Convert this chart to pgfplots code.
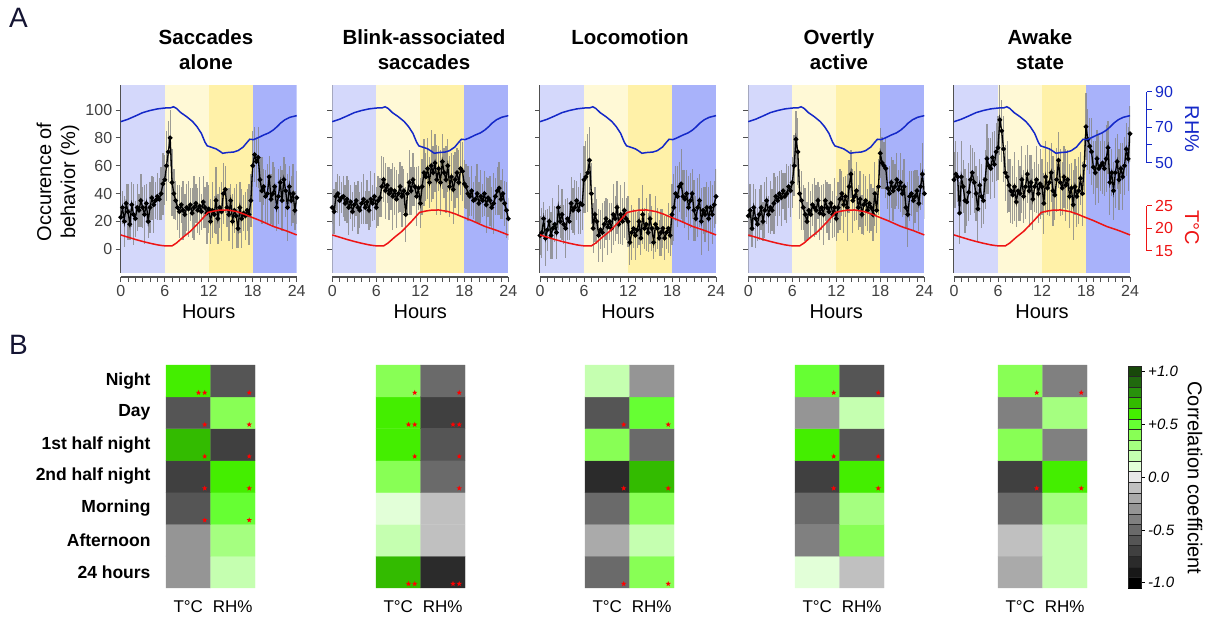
\documentclass[border=0pt]{standalone}
\usepackage{pgfplots}
\usepackage{pgfplotstable}
\pgfplotsset{compat=1.18}
\usepackage{fontspec}
\setmainfont{Liberation Sans}
\newcommand{\fs}[1]{\fontsize{#1}{#1}\selectfont}

\definecolor{bandA}{RGB}{212,216,251}
\definecolor{bandB}{RGB}{255,249,214}
\definecolor{bandC}{RGB}{255,241,168}
\definecolor{bandD}{RGB}{168,178,250}
\definecolor{rhblue}{RGB}{20,40,200}
\definecolor{tred}{RGB}{238,20,20}
\definecolor{axgray}{RGB}{80,80,80}
\definecolor{labnavy}{RGB}{20,20,50}

% filled five-pointed star for significance marks
\pgfdeclareplotmark{fstar}{%
  \pgfpathmoveto{\pgfpointpolar{90}{\pgfplotmarksize}}%
  \pgfpathlineto{\pgfpointpolar{126}{0.42\pgfplotmarksize}}%
  \pgfpathlineto{\pgfpointpolar{162}{\pgfplotmarksize}}%
  \pgfpathlineto{\pgfpointpolar{198}{0.42\pgfplotmarksize}}%
  \pgfpathlineto{\pgfpointpolar{234}{\pgfplotmarksize}}%
  \pgfpathlineto{\pgfpointpolar{270}{0.42\pgfplotmarksize}}%
  \pgfpathlineto{\pgfpointpolar{306}{\pgfplotmarksize}}%
  \pgfpathlineto{\pgfpointpolar{342}{0.42\pgfplotmarksize}}%
  \pgfpathlineto{\pgfpointpolar{18}{\pgfplotmarksize}}%
  \pgfpathlineto{\pgfpointpolar{54}{0.42\pgfplotmarksize}}%
  \pgfpathclose
  \pgfusepathqfill
}

% correlation colour scale, index 0 = -1.0 ... index 20 = +1.0
\pgfplotsset{colormap={corr}{rgb255=(0,0,0) rgb255=(24,24,24) rgb255=(43,43,43)
  rgb255=(64,64,64) rgb255=(85,85,85) rgb255=(106,106,106) rgb255=(128,128,128)
  rgb255=(149,149,149) rgb255=(170,170,170) rgb255=(192,192,192) rgb255=(232,232,232)
  rgb255=(226,255,216) rgb255=(197,255,176) rgb255=(165,255,128) rgb255=(136,255,85)
  rgb255=(102,255,51) rgb255=(68,238,0) rgb255=(51,187,0) rgb255=(40,145,12)
  rgb255=(32,105,14) rgb255=(24,72,10)}}

% ---------- occurrence of behaviour (mean, sd) over 24 h ----------
\pgfplotstableread[row sep=\\]{
t y e\\
0 23 15\\ 0.25 30 12\\ 0.5 20 18\\ 0.75 33 14\\
1 27 20\\ 1.25 18 11\\ 1.5 32 16\\ 1.75 25 22\\
2 22 13\\ 2.25 30 17\\ 2.5 28 12\\ 2.75 35 19\\
3 30 15\\ 3.25 25 21\\ 3.5 33 14\\ 3.75 20 12\\
4 30 18\\ 4.25 37 16\\ 4.5 32 20\\ 4.75 35 13\\
5 38 17\\ 5.25 36 15\\ 5.5 40 19\\ 5.75 47 22\\
6 50 18\\ 6.25 60 25\\ 6.5 70 22\\ 6.75 80 20\\
7 48 24\\ 7.25 40 18\\ 7.5 35 14\\ 7.75 30 16\\
8 27 19\\ 8.25 32 13\\ 8.5 28 21\\ 8.75 25 15\\
9 30 17\\ 9.25 29 20\\ 9.5 32 12\\ 9.75 26 18\\
10 30 23\\ 10.25 33 14\\ 10.5 28 16\\ 10.75 31 21\\
11 27 13\\ 11.25 34 19\\ 11.5 30 15\\ 11.75 26 22\\
12 29 17\\ 12.25 20 16\\ 12.5 28 20\\ 12.75 25 13\\
13 35 24\\ 13.25 22 18\\ 13.5 30 15\\ 13.75 27 21\\
14 40 22\\ 14.25 43 17\\ 14.5 30 14\\ 14.75 25 19\\
15 35 12\\ 15.25 20 20\\ 15.5 28 16\\ 15.75 24 23\\
16 15 14\\ 16.25 30 18\\ 16.5 22 21\\ 16.75 26 13\\
17 24 17\\ 17.25 28 15\\ 17.5 25 22\\ 17.75 35 19\\
18 60 25\\ 18.25 68 20\\ 18.5 63 18\\ 18.75 66 22\\
19 50 16\\ 19.25 42 24\\ 19.5 45 13\\ 19.75 38 19\\
20 40 21\\ 20.25 52 15\\ 20.5 36 18\\ 20.75 40 23\\
21 45 14\\ 21.25 30 17\\ 21.5 38 20\\ 21.75 48 12\\
22 35 22\\ 22.25 50 16\\ 22.5 42 19\\ 22.75 30 24\\
23 45 15\\ 23.25 35 18\\ 23.5 40 21\\ 23.75 28 14\\
24 37 19\\
}\occSacc

\pgfplotstableread[row sep=\\]{
t y e\\
0 30 12\\ 0.25 27 16\\ 0.5 38 10\\ 0.75 40 14\\
1 35 18\\ 1.25 37 11\\ 1.5 38 15\\ 1.75 33 13\\
2 36 17\\ 2.25 30 20\\ 2.5 34 12\\ 2.75 27 14\\
3 32 16\\ 3.25 35 11\\ 3.5 30 19\\ 3.75 28 13\\
4 33 15\\ 4.25 36 18\\ 4.5 30 12\\ 4.75 34 16\\
5 28 14\\ 5.25 36 20\\ 5.5 33 13\\ 5.75 38 17\\
6 30 15\\ 6.25 35 18\\ 6.5 37 14\\ 6.75 45 22\\
7 50 16\\ 7.25 42 20\\ 7.5 46 13\\ 7.75 40 19\\
8 43 15\\ 8.25 38 24\\ 8.5 42 17\\ 8.75 36 21\\
9 40 14\\ 9.25 45 18\\ 9.5 38 22\\ 9.75 42 16\\
10 25 20\\ 10.25 40 15\\ 10.5 48 23\\ 10.75 42 17\\
11 50 19\\ 11.25 45 14\\ 11.5 38 21\\ 11.75 44 16\\
12 33 18\\ 12.25 45 20\\ 12.5 55 24\\ 12.75 52 17\\
13 58 22\\ 13.25 48 18\\ 13.5 60 26\\ 13.75 55 19\\
14 62 21\\ 14.25 50 25\\ 14.5 58 16\\ 14.75 48 23\\
15 63 20\\ 15.25 55 18\\ 15.5 50 24\\ 15.75 60 19\\
16 45 22\\ 16.25 52 17\\ 16.5 43 25\\ 16.75 50 20\\
17 55 18\\ 17.25 48 23\\ 17.5 58 19\\ 17.75 56 21\\
18 47 17\\ 18.25 45 16\\ 18.5 40 20\\ 18.75 38 14\\
19 42 18\\ 19.25 35 13\\ 19.5 36 17\\ 19.75 40 21\\
20 33 15\\ 20.25 38 19\\ 20.5 35 12\\ 20.75 40 16\\
21 32 20\\ 21.25 37 14\\ 21.5 35 18\\ 21.75 30 15\\
22 33 22\\ 22.25 38 13\\ 22.5 42 17\\ 22.75 44 19\\
23 36 14\\ 23.25 40 18\\ 23.5 33 16\\ 23.75 28 20\\
24 22 15\\
}\occBlink

\pgfplotstableread[row sep=\\]{
t y e\\
0 10 14\\ 0.25 12 18\\ 0.5 22 12\\ 0.75 8 20\\
1 14 15\\ 1.25 20 11\\ 1.5 10 17\\ 1.75 15 22\\
2 18 13\\ 2.25 12 19\\ 2.5 30 16\\ 2.75 20 12\\
3 25 18\\ 3.25 18 14\\ 3.5 15 21\\ 3.75 22 15\\
4 20 13\\ 4.25 33 19\\ 4.5 28 16\\ 4.75 30 20\\
5 35 14\\ 5.25 28 17\\ 5.5 33 22\\ 5.75 32 18\\
6 50 24\\ 6.25 52 26\\ 6.5 55 28\\ 6.75 64 24\\
7 40 22\\ 7.25 15 18\\ 7.5 25 20\\ 7.75 20 16\\
8 10 19\\ 8.25 14 14\\ 8.5 12 21\\ 8.75 18 17\\
9 22 15\\ 9.25 16 20\\ 9.5 20 13\\ 9.75 15 18\\
10 25 22\\ 10.25 22 16\\ 10.5 30 19\\ 10.75 18 14\\
11 25 21\\ 11.25 20 17\\ 11.5 28 20\\ 11.75 22 15\\
12 20 18\\ 12.25 5 16\\ 12.5 12 20\\ 12.75 15 14\\
13 10 18\\ 13.25 14 13\\ 13.5 20 17\\ 13.75 8 12\\
14 25 21\\ 14.25 15 15\\ 14.5 18 19\\ 14.75 12 14\\
15 22 18\\ 15.25 15 16\\ 15.5 5 12\\ 15.75 18 20\\
16 15 15\\ 16.25 8 13\\ 16.5 12 17\\ 16.75 15 14\\
17 8 16\\ 17.25 12 12\\ 17.5 15 18\\ 17.75 10 15\\
18 25 22\\ 18.25 30 24\\ 18.5 40 20\\ 18.75 38 22\\
19 45 18\\ 19.25 47 25\\ 19.5 38 19\\ 19.75 36 21\\
20 40 17\\ 20.25 30 23\\ 20.5 35 20\\ 20.75 40 18\\
21 28 22\\ 21.25 22 16\\ 21.5 30 21\\ 21.75 35 19\\
22 20 24\\ 22.25 28 17\\ 22.5 25 20\\ 22.75 30 18\\
23 22 23\\ 23.25 30 19\\ 23.5 25 21\\ 23.75 32 17\\
24 38 20\\
}\occLoco

\pgfplotstableread[row sep=\\]{
t y e\\
0 24 15\\ 0.25 28 19\\ 0.5 15 13\\ 0.75 30 17\\
1 22 21\\ 1.25 18 12\\ 1.5 25 18\\ 1.75 30 16\\
2 20 14\\ 2.25 28 20\\ 2.5 35 17\\ 2.75 25 13\\
3 30 19\\ 3.25 28 15\\ 3.5 33 22\\ 3.75 38 14\\
4 35 18\\ 4.25 40 16\\ 4.5 37 20\\ 4.75 42 13\\
5 38 17\\ 5.25 40 21\\ 5.5 45 15\\ 5.75 42 19\\
6 48 18\\ 6.25 60 22\\ 6.5 79 20\\ 6.75 70 24\\
7 40 18\\ 7.25 35 21\\ 7.5 30 16\\ 7.75 25 19\\
8 20 14\\ 8.25 28 20\\ 8.5 25 17\\ 8.75 32 15\\
9 30 21\\ 9.25 28 18\\ 9.5 35 13\\ 9.75 26 19\\
10 30 16\\ 10.25 25 22\\ 10.5 35 15\\ 10.75 30 18\\
11 27 20\\ 11.25 33 14\\ 11.5 25 17\\ 11.75 30 21\\
12 22 16\\ 12.25 30 18\\ 12.5 36 22\\ 12.75 40 16\\
13 32 20\\ 13.25 38 15\\ 13.5 30 24\\ 13.75 45 19\\
14 54 17\\ 14.25 35 23\\ 14.5 38 18\\ 14.75 42 21\\
15 30 16\\ 15.25 36 20\\ 15.5 25 14\\ 15.75 32 22\\
16 35 18\\ 16.25 28 15\\ 16.5 33 21\\ 16.75 30 17\\
17 25 19\\ 17.25 40 23\\ 17.5 28 16\\ 17.75 45 20\\
18 69 18\\ 18.25 62 19\\ 18.5 60 17\\ 18.75 58 21\\
19 44 15\\ 19.25 40 20\\ 19.5 48 18\\ 19.75 42 22\\
20 45 16\\ 20.25 50 19\\ 20.5 43 14\\ 20.75 48 21\\
21 40 17\\ 21.25 45 20\\ 21.5 30 15\\ 21.75 25 23\\
22 38 18\\ 22.25 40 16\\ 22.5 35 21\\ 22.75 38 19\\
23 42 15\\ 23.25 33 20\\ 23.5 45 17\\ 23.75 54 22\\
24 40 18\\
}\occActive

\pgfplotstableread[row sep=\\]{
t y e\\
0 50 20\\ 0.25 54 24\\ 0.5 52 18\\ 0.75 26 22\\
1 52 26\\ 1.25 45 19\\ 1.5 35 23\\ 1.75 34 17\\
2 41 21\\ 2.25 50 25\\ 2.5 55 18\\ 2.75 48 22\\
3 40 20\\ 3.25 29 24\\ 3.5 46 19\\ 3.75 38 23\\
4 35 17\\ 4.25 50 21\\ 4.5 65 25\\ 4.75 60 20\\
5 58 22\\ 5.25 66 18\\ 5.5 61 24\\ 5.75 70 21\\
6 73 23\\ 6.25 93 25\\ 6.5 85 22\\ 6.75 72 24\\
7 55 20\\ 7.25 52 26\\ 7.5 46 19\\ 7.75 42 23\\
8 39 21\\ 8.25 45 25\\ 8.5 34 18\\ 8.75 42 22\\
9 40 20\\ 9.25 50 24\\ 9.5 38 19\\ 9.75 45 23\\
10 54 21\\ 10.25 42 26\\ 10.5 48 20\\ 10.75 36 22\\
11 45 18\\ 11.25 50 24\\ 11.5 40 21\\ 11.75 47 25\\
12 45 20\\ 12.25 33 22\\ 12.5 52 26\\ 12.75 44 19\\
13 48 24\\ 13.25 55 21\\ 13.5 42 25\\ 13.75 39 18\\
14 50 23\\ 14.25 64 20\\ 14.5 48 24\\ 14.75 44 19\\
15 52 22\\ 15.25 46 26\\ 15.5 50 21\\ 15.75 38 23\\
16 44 18\\ 16.25 32 25\\ 16.5 45 20\\ 16.75 38 22\\
17 42 24\\ 17.25 51 19\\ 17.5 40 23\\ 17.75 60 21\\
18 88 24\\ 18.25 79 22\\ 18.5 74 20\\ 18.75 70 24\\
19 59 19\\ 19.25 55 23\\ 19.5 65 21\\ 19.75 58 25\\
20 60 18\\ 20.25 62 22\\ 20.5 58 20\\ 20.75 65 24\\
21 73 19\\ 21.25 48 23\\ 21.5 55 17\\ 21.75 42 21\\
22 55 25\\ 22.25 63 20\\ 22.5 50 22\\ 22.75 58 18\\
23 52 24\\ 23.25 60 21\\ 23.5 72 19\\ 23.75 65 23\\
24 83 20\\
}\occAwake

% ---------- relative humidity and temperature ----------
\pgfplotstableread[row sep=\\]{
t rh\\
0 73.1\\ 1 74.5\\ 2 76.3\\ 3 78.2\\ 4 79.4\\ 5 80.3\\ 6 80.8\\ 6.8 80.9\\ 7.2 81.5\\
7.6 80.6\\ 8.2 78.2\\ 9 75.9\\ 9.8 73.2\\ 10.4 70.3\\ 11 66.5\\ 11.5 61.5\\ 11.8 59.5\\
12.3 58.8\\ 13 57.8\\ 13.5 56.5\\ 13.9 55.3\\ 14.5 55.7\\ 15.4 56.0\\ 16 56.8\\
16.7 58.8\\ 17.2 61.3\\ 17.6 63.2\\ 18.1 63.0\\ 18.6 63.8\\ 19.5 65.6\\ 20.2 66.8\\
20.8 68.4\\ 21.3 70.2\\ 21.8 72.3\\ 22.4 74.2\\ 23.1 75.6\\ 24 76.5\\
}\rhdata

\pgfplotstableread[row sep=\\]{
t tc\\
0 18.5\\ 1 18.0\\ 2 17.5\\ 3 17.05\\ 4 16.65\\ 5 16.3\\ 5.8 16.1\\ 7 16.07\\
7.6 16.7\\ 8.5 18.0\\ 9.5 19.3\\ 10.8 21.5\\ 11.9 23.5\\ 12.7 23.8\\ 13.5 24.0\\
14.5 24.05\\ 15.8 23.7\\ 16.8 23.15\\ 17.6 22.6\\ 19 21.7\\ 20.8 20.4\\ 22.6 19.4\\
24 18.5\\
}\tdata

% ---------- correlation coefficients (x: 0 = T, 1 = RH; y: 0 = 24 h ... 6 = night) ----------
\pgfplotstableread[row sep=\\]{
x y v\\ 0 0 -0.3\\ 1 0 0.2\\ 0 1 -0.3\\ 1 1 0.3\\ 0 2 -0.6\\ 1 2 0.5\\ 0 3 -0.7\\ 1 3 0.6\\
0 4 0.7\\ 1 4 -0.7\\ 0 5 -0.6\\ 1 5 0.4\\ 0 6 0.6\\ 1 6 -0.6\\
}\corSacc
\pgfplotstableread[row sep=\\]{
x y v\\ 0 0 0.7\\ 1 0 -0.8\\ 0 1 0.2\\ 1 1 -0.1\\ 0 2 0.1\\ 1 2 -0.1\\ 0 3 0.4\\ 1 3 -0.5\\
0 4 0.6\\ 1 4 -0.6\\ 0 5 0.6\\ 1 5 -0.7\\ 0 6 0.4\\ 1 6 -0.5\\
}\corBlink
\pgfplotstableread[row sep=\\]{
x y v\\ 0 0 -0.5\\ 1 0 0.4\\ 0 1 -0.2\\ 1 1 0.2\\ 0 2 -0.5\\ 1 2 0.4\\ 0 3 -0.8\\ 1 3 0.7\\
0 4 0.4\\ 1 4 -0.5\\ 0 5 -0.6\\ 1 5 0.5\\ 0 6 0.2\\ 1 6 -0.3\\
}\corLoco
\pgfplotstableread[row sep=\\]{
x y v\\ 0 0 0.1\\ 1 0 -0.1\\ 0 1 -0.4\\ 1 1 0.4\\ 0 2 -0.5\\ 1 2 0.3\\ 0 3 -0.7\\ 1 3 0.6\\
0 4 0.6\\ 1 4 -0.6\\ 0 5 -0.3\\ 1 5 0.2\\ 0 6 0.5\\ 1 6 -0.6\\
}\corActive
\pgfplotstableread[row sep=\\]{
x y v\\ 0 0 -0.2\\ 1 0 0.2\\ 0 1 -0.1\\ 1 1 0.2\\ 0 2 -0.5\\ 1 2 0.3\\ 0 3 -0.7\\ 1 3 0.6\\
0 4 0.4\\ 1 4 -0.4\\ 0 5 -0.4\\ 1 5 0.3\\ 0 6 0.4\\ 1 6 -0.4\\
}\corAwake

% significance stars (one per star, bottom right of the cell)
\pgfplotstableread[row sep=\\]{
x y\\ 0.23 5.63\\ 0.37 5.63\\ 1.37 5.63\\ 0.37 4.63\\ 1.37 4.63\\ 0.37 3.63\\ 1.37 3.63\\
0.37 2.63\\ 1.37 2.63\\ 0.37 1.63\\ 1.37 1.63\\
}\sigSacc
\pgfplotstableread[row sep=\\]{
x y\\ 0.37 5.63\\ 1.37 5.63\\ 0.23 4.63\\ 0.37 4.63\\ 1.23 4.63\\ 1.37 4.63\\ 0.37 3.63\\
1.37 3.63\\ 1.37 2.63\\ 0.23 -0.37\\ 0.37 -0.37\\ 1.23 -0.37\\ 1.37 -0.37\\
}\sigBlink
\pgfplotstableread[row sep=\\]{
x y\\ 0.37 4.63\\ 1.37 4.63\\ 0.37 2.63\\ 1.37 2.63\\ 0.37 -0.37\\ 1.37 -0.37\\
}\sigLoco
\pgfplotstableread[row sep=\\]{
x y\\ 0.37 5.63\\ 1.37 5.63\\ 0.37 3.63\\ 1.37 3.63\\ 0.37 2.63\\ 1.37 2.63\\
}\sigActive
\pgfplotstableread[row sep=\\]{
x y\\ 0.37 5.63\\ 1.37 5.63\\ 0.37 2.63\\ 1.37 2.63\\
}\sigAwake

\pgfplotstableread[row sep=\\]{
x y\\ 0 -1\\ 1 -1\\ 0 -0.9\\ 1 -0.9\\ 0 -0.8\\ 1 -0.8\\ 0 -0.7\\ 1 -0.7\\ 0 -0.6\\ 1 -0.6\\
0 -0.5\\ 1 -0.5\\ 0 -0.4\\ 1 -0.4\\ 0 -0.3\\ 1 -0.3\\ 0 -0.2\\ 1 -0.2\\ 0 -0.1\\ 1 -0.1\\
0 0\\ 1 0\\ 0 0.1\\ 1 0.1\\ 0 0.2\\ 1 0.2\\ 0 0.3\\ 1 0.3\\ 0 0.4\\ 1 0.4\\ 0 0.5\\ 1 0.5\\
0 0.6\\ 1 0.6\\ 0 0.7\\ 1 0.7\\ 0 0.8\\ 1 0.8\\ 0 0.9\\ 1 0.9\\ 0 1\\ 1 1\\
}\cbdata

\pgfplotsset{
  occ axis/.style={scale only axis, anchor=south west, width=176pt, height=188pt,
    xmin=0, xmax=24, ymin=-17, ymax=118,
    axis x line*=bottom, axis y line*=left, axis x line shift=4pt,
    xtick={0,6,12,18,24}, minor x tick num=5, ytick={0,20,...,100},
    tick align=outside, major tick length=5pt, minor tick length=5pt,
    axis line style={axgray, line width=1.3pt},
    tick style={axgray, line width=0.9pt},
    ticklabel style={font=\fs{16}, text=black!75},
    /pgf/number format/assume math mode=true,
    xlabel={Hours},
    xlabel style={font=\fs{20}, at={(axis description cs:0.5,0)}, anchor=base, yshift=-46pt}},
  env axis/.style={scale only axis, anchor=south west, width=176pt,
    xmin=0, xmax=24, clip=false},
  hm axis/.style={scale only axis, anchor=south west, width=89pt, height=223pt,
    xmin=-0.5, xmax=1.5, ymin=-0.5, ymax=6.5,
    axis line style={draw=none}, tick style={draw=none},
    xtick={0,1}, xticklabels={T°C,RH\%}, ytick=\empty, major tick length=0pt,
    xticklabel style={font=\fs{17}, anchor=base, yshift=-25pt},
    colormap name=corr, colormap access=direct, clip=false},
}

\newcommand{\occpanel}[3]{%
  \begin{axis}[occ axis, at={(#1pt,344pt)}, #3]
    \addplot[fill=bandA, draw=none] coordinates {(0,-17) (0,118) (6,118) (6,-17)} -- cycle;
    \addplot[fill=bandB, draw=none] coordinates {(6,-17) (6,118) (12,118) (12,-17)} -- cycle;
    \addplot[fill=bandC, draw=none] coordinates {(12,-17) (12,118) (18,118) (18,-17)} -- cycle;
    \addplot[fill=bandD, draw=none] coordinates {(18,-17) (18,118) (24,118) (24,-17)} -- cycle;
    \addplot[draw=none, error bars/.cd, y dir=both, y explicit, error mark=none,
      error bar style={draw=black!48, line width=1.3pt, opacity=0.8}]
      table[x=t, y=y, y error=e] {#2};
    \addplot[black, line width=1.3pt, mark=*, mark size=1.7pt] table[x=t, y=y] {#2};
  \end{axis}
  \begin{axis}[env axis, at={(#1pt,454.3pt)}, height=71pt, ymin=50, ymax=90, hide axis]
    \addplot[rhblue, line width=1.5pt] table[x=t, y=rh] {\rhdata};
  \end{axis}
  \begin{axis}[env axis, at={(#1pt,366.3pt)}, height=45pt, ymin=15, ymax=25, hide axis]
    \addplot[tred, line width=1.5pt] table[x=t, y=tc] {\tdata};
  \end{axis}
}

\newcommand{\hmpanel}[4]{%
  \begin{axis}[hm axis, at={(#1pt,29pt)}, #4]
    \addplot[matrix plot*, mesh/cols=2, point meta=explicit]
      table[x=x, y=y, meta expr={round(10*\thisrow{v}+10)}] {#2};
    \addplot[only marks, mark=fstar, mark size=2.8pt, red] table[x=x, y=y] {#3};
  \end{axis}
}

\begin{document}
\begin{tikzpicture}
\useasboundingbox (0,0) rectangle (1210pt,617pt);

% panel letters
\node[anchor=base west, font=\fs{28}, text=labnavy, inner sep=0pt] at (9pt,589pt) {A};
\node[anchor=base west, font=\fs{28}, text=labnavy, inner sep=0pt] at (9pt,262pt) {B};

% titles
\begin{scope}[every node/.style={anchor=base, font=\bfseries\fs{20.5}, inner sep=0pt}]
\node at (206pt,572pt) {Saccades};            \node at (206pt,547.5pt) {alone};
\node at (424pt,572pt) {Blink-associated};    \node at (424pt,547.5pt) {saccades};
\node at (630pt,572pt) {Locomotion};
\node at (839pt,572pt) {Overtly};             \node at (839pt,547.5pt) {active};
\node at (1040pt,572pt) {Awake};              \node at (1040pt,547.5pt) {state};
\end{scope}

\node[rotate=90, align=center, font=\fontsize{20}{24}\selectfont] at (58pt,435pt)
  {Occurence of\\behavior (\%)};

% time courses
\occpanel{120.7}{\occSacc}{}
\occpanel{332.3}{\occBlink}{yticklabel=\empty}
\occpanel{540}{\occLoco}{yticklabel=\empty}
\occpanel{748.3}{\occActive}{yticklabel=\empty}
\occpanel{954}{\occAwake}{yticklabel=\empty}

% right-hand scales of the last panel
\begin{axis}[env axis, at={(954pt,454.3pt)}, width=192.7pt, xmax=26.17, height=71pt,
  ymin=50, ymax=90, hide x axis, axis y line*=right,
  ytick={50,70,90}, minor ytick={60,80}, tick align=outside,
  major tick length=5pt, minor tick length=5pt,
  y axis line style={rhblue, line width=1.3pt}, tick style={rhblue, line width=0.9pt},
  yticklabel style={font=\fs{16}, text=rhblue}, /pgf/number format/assume math mode=true]
  \addplot[draw=none] coordinates {(0,70)};
\end{axis}
\begin{axis}[env axis, at={(954pt,366.3pt)}, width=192.7pt, xmax=26.17, height=45pt,
  ymin=15, ymax=25, hide x axis, axis y line*=right,
  ytick={15,20,25}, tick align=outside, major tick length=5pt,
  y axis line style={tred, line width=1.3pt}, tick style={tred, line width=0.9pt},
  yticklabel style={font=\fs{16}, text=tred}, /pgf/number format/assume math mode=true]
  \addplot[draw=none] coordinates {(0,20)};
\end{axis}
\node[rotate=-90, font=\fs{20}, text=rhblue] at (1192pt,488pt) {RH\%};
\node[rotate=-90, font=\fs{20}, text=tred] at (1192pt,389.5pt) {T°C};

% correlation maps
\hmpanel{166}{\corSacc}{\sigSacc}{ytick={0,...,6},
  yticklabels={24 hours,Afternoon,Morning,2nd half night,1st half night,Day,Night},
  yticklabel style={font=\bfseries\fs{17.5}, anchor=east, xshift=-12pt}}
\hmpanel{376}{\corBlink}{\sigBlink}{}
\hmpanel{585}{\corLoco}{\sigLoco}{}
\hmpanel{795}{\corActive}{\sigActive}{}
\hmpanel{998}{\corAwake}{\sigAwake}{}

% colour scale
\begin{axis}[scale only axis, anchor=south west, at={(1128pt,29pt)}, width=13.7pt, height=222pt,
  xmin=-0.5, xmax=0.5, ymin=-1.05, ymax=1.05, xtick=\empty,
  ytick={-1,-0.5,0,0.5,1}, yticklabels={-1.0,-0.5,0.0,+0.5,+1.0}, ytick pos=right,
  tick align=outside, major tick length=3pt, tick style={black, line width=0.6pt},
  yticklabel style={font=\itshape\fs{15}},
  colormap name=corr, colormap access=direct, axis line style={black, line width=0.8pt}]
  \addplot[matrix plot*, mesh/cols=2, point meta=explicit, draw=black!85, line width=0.7pt]
    table[x=x, y=y, meta expr={round(10*\thisrow{y}+10)}] {\cbdata};
\end{axis}
\node[rotate=-90, font=\fs{20}] at (1195pt,139pt) {Correlation coefficient};
\end{tikzpicture}
\end{document}
